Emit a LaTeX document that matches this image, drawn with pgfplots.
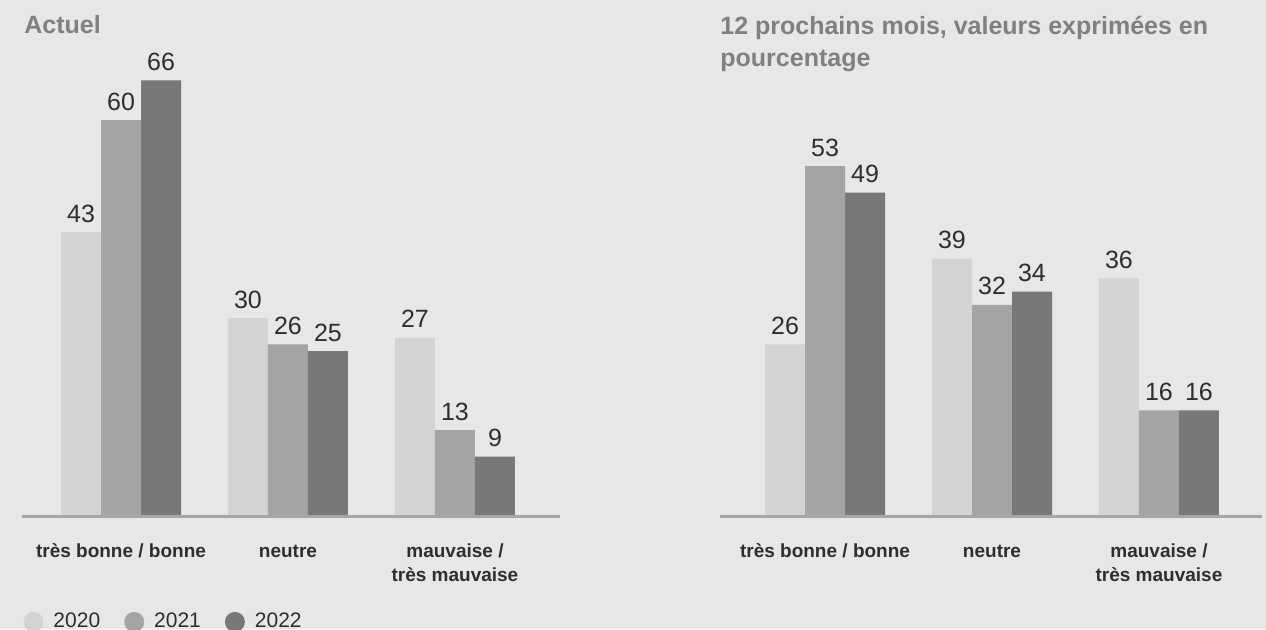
\documentclass[border=0pt]{standalone}
\usepackage{pgfplots}
\pgfplotsset{compat=1.18}
\usepackage{fontspec}
\setmainfont{Liberation Sans}
\definecolor{bg}{HTML}{E7E7E7}
\definecolor{cA}{HTML}{D3D3D3}
\definecolor{cB}{HTML}{A4A4A4}
\definecolor{cC}{HTML}{787878}
\definecolor{axc}{HTML}{A6A6A6}
\definecolor{ttl}{HTML}{808080}
\definecolor{txt}{HTML}{2E2E2E}
\pgfplotsset{
 mybars/.style={
  ybar=0pt, bar width=20pt, scale only axis, height=231pt,
  ymin=0, ymax=70, axis line style={draw=none}, ytick=\empty, xtick={0,1,2},
  major tick length=0pt,
  /pgf/number format/assume math mode=true,
  xticklabels={très bonne / bonne, neutre, {\begin{tabular}[t]{@{}c@{}}mauvaise /\\très mauvaise\end{tabular}}},
  xticklabel style={font=\bfseries\fontsize{9.5}{12}\selectfont, text=txt, anchor=base, inner sep=0pt, yshift=-20.5pt},
  nodes near coords,
  every node near coord/.append style={font=\fontsize{12.5}{14}\selectfont, text=txt, anchor=base, inner sep=0pt, yshift=5pt},
  clip=false,
 }
}
\begin{document}
\begin{tikzpicture}
\fill[bg] (0,0) rectangle (633pt,314.5pt);
\begin{axis}[mybars, at={(11pt,56.5pt)}, anchor=south west, width=269pt, xmin=-0.593, xmax=2.629,
  legend style={at={(0.002,-0.2292)}, anchor=west, draw=none, fill=none, inner sep=0pt,
    font=\fontsize{10.5}{12}\selectfont, text=txt, nodes={inner sep=0pt},
    /tikz/every odd column/.append style={column sep=5pt},
    /tikz/every even column/.append style={column sep=12pt}},
  legend columns=-1]
\addplot[fill=cA, draw=none, legend image code/.code={\fill[cA] (0pt,0pt) circle (5pt);}] coordinates {(0,43) (1,30) (2,27)};
\addplot[fill=cB, draw=none, legend image code/.code={\fill[cB] (0pt,0pt) circle (5pt);}] coordinates {(0,60) (1,26) (2,13)};
\addplot[fill=cC, draw=none, legend image code/.code={\fill[cC] (0pt,0pt) circle (5pt);}] coordinates {(0,66) (1,25) (2,9)};
\legend{2020,2021,2022}
\draw[axc, line width=1.5pt] (rel axis cs:0,0) -- (rel axis cs:1,0);
\end{axis}
\begin{axis}[mybars, at={(360pt,56.5pt)}, anchor=south west, width=271pt, xmin=-0.629, xmax=2.617]
\addplot[fill=cA, draw=none] coordinates {(0,26) (1,39) (2,36)};
\addplot[fill=cB, draw=none] coordinates {(0,53) (1,32) (2,16)};
\addplot[fill=cC, draw=none] coordinates {(0,49) (1,34) (2,16)};
\draw[axc, line width=1.5pt] (rel axis cs:0,0) -- (rel axis cs:1,0);
\end{axis}
\node[anchor=base west, font=\bfseries\fontsize{12.5}{16}\selectfont, text=ttl, inner sep=0pt] at (12pt,298pt) {Actuel};
\node[anchor=base west, font=\bfseries\fontsize{12.5}{16}\selectfont, text=ttl, inner sep=0pt] at (360pt,297.5pt) {12 prochains mois, valeurs exprimées en};
\node[anchor=base west, font=\bfseries\fontsize{12.5}{16}\selectfont, text=ttl, inner sep=0pt] at (360pt,281.5pt) {pourcentage};
\pgfresetboundingbox
\useasboundingbox (0,0) rectangle (633pt,314.5pt);
\end{tikzpicture}
\end{document}
